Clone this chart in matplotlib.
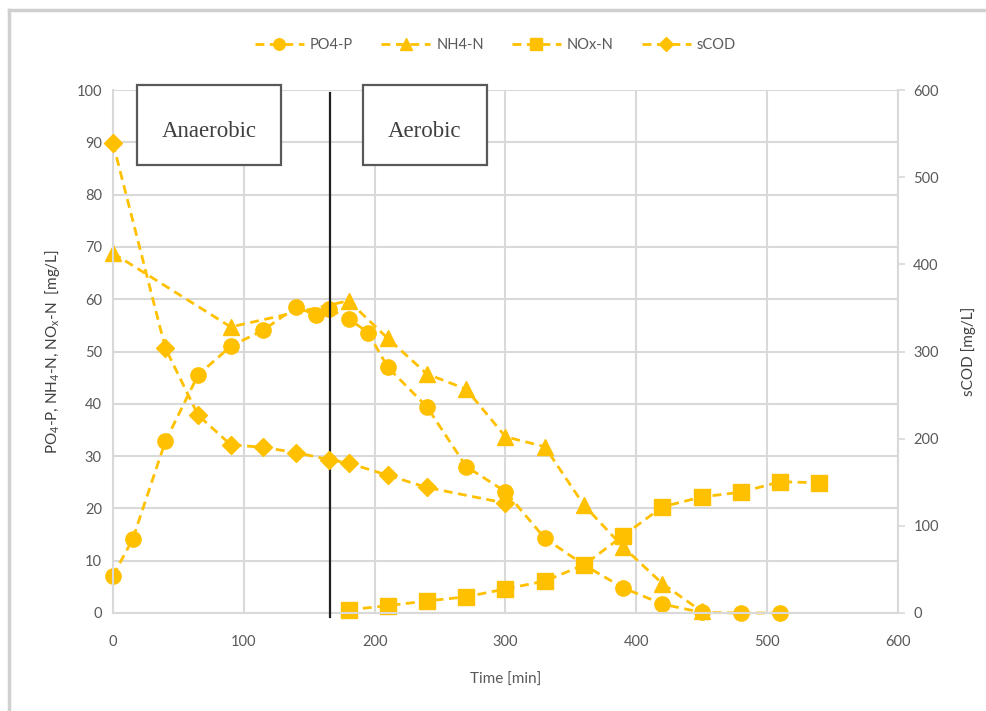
import matplotlib
matplotlib.use("Agg")
import matplotlib.pyplot as plt
from matplotlib.lines import Line2D
from matplotlib.patches import Rectangle

plt.rcParams['font.family'] = ['Lato', 'DejaVu Sans']
plt.rcParams['mathtext.fontset'] = 'custom'
plt.rcParams['mathtext.rm'] = 'Lato'
plt.rcParams['mathtext.it'] = 'Lato'

# ---- data ----
po4_t = [0, 15, 40, 65, 90, 115, 140, 155, 165, 180, 195, 210, 240, 270, 300, 330, 360, 390, 420, 450, 480, 510]
po4_v = [7.1, 14.1, 32.8, 45.5, 51.0, 54.1, 58.5, 57.0, 58.1, 56.3, 53.6, 47.0, 39.4, 28.0, 23.2, 14.3, 9.2, 4.8, 1.7, 0.1, 0.0, 0.0]

nh4_t = [0, 90, 180, 210, 240, 270, 300, 330, 360, 390, 420, 450]
nh4_v = [68.8, 54.7, 59.7, 52.5, 45.7, 42.8, 33.7, 31.8, 20.6, 12.6, 5.6, 0.3]

nox_t = [180, 210, 240, 270, 300, 330, 360, 390, 420, 450, 480, 510, 540]
nox_v = [0.6, 1.4, 2.3, 3.1, 4.6, 6.1, 9.2, 14.8, 20.3, 22.2, 23.1, 25.1, 24.9]

scod_t = [0, 40, 65, 90, 115, 140, 165, 180, 210, 240, 300]
scod_v = [539, 304, 227, 193, 190, 184, 176, 172, 158, 144, 126]

phase_boundary = 166
x_ticks = [0, 100, 200, 300, 400, 500, 600]
left_ticks = list(range(0, 101, 10))
right_ticks = list(range(0, 601, 100))

COLOR = '#FFC000'
GRID = '#D9D9D9'
TXT = '#595959'

fig = plt.figure(figsize=(9.87, 7.11), dpi=100)
ax = fig.add_axes([113/987, 1-613/711, 785/987, 523/711])
ax2 = ax.twinx()

common = dict(color=COLOR, lw=2.0, ls=(0, (3.2, 2.0)), markersize=11, clip_on=False)
l1, = ax.plot(po4_t, po4_v, marker='o', label='PO4-P', **common)
l2, = ax.plot(nh4_t, nh4_v, marker='^', label='NH4-N', **common)
l3, = ax.plot(nox_t, nox_v, marker='s', label='NOx-N', **common)
l4, = ax2.plot(scod_t, scod_v, marker='D', label='sCOD', color=COLOR, lw=2.0,
               ls=(0, (3.2, 2.0)), markersize=9, clip_on=False)

ax.set_xlim(0, 600)
ax.set_ylim(0, 100)
ax2.set_ylim(0, 600)
ax.set_xticks(x_ticks)
ax.set_yticks(left_ticks)
ax2.set_yticks(right_ticks)

ax.grid(True, color=GRID, lw=1.5)
ax.set_axisbelow(True)
for a in (ax, ax2):
    for s in a.spines.values():
        s.set_visible(False)
ax.spines['left'].set_visible(True)
ax.spines['bottom'].set_visible(True)
ax.spines['left'].set_color(GRID)
ax.spines['bottom'].set_color(GRID)
ax.spines['left'].set_linewidth(1.5)
ax.spines['bottom'].set_linewidth(1.5)
ax2.spines['right'].set_visible(True)
ax2.spines['right'].set_color(GRID)
ax2.spines['right'].set_linewidth(1.5)

ax.tick_params(axis='y', length=0, labelsize=10.5, colors=TXT, pad=8)
ax.tick_params(axis='x', length=0, labelsize=10.5, colors=TXT, pad=16)
ax2.tick_params(axis='y', length=5, width=1.2, color=GRID, labelsize=10.5, labelcolor=TXT, pad=6)

ax.set_xlabel('Time [min]', fontsize=11, color=TXT, labelpad=17)
ax.set_ylabel('PO$_4$-P, NH$_4$-N, NO$_x$-N  [mg/L]', fontsize=11, color='#404040', labelpad=10)
ax2.set_ylabel('sCOD [mg/L]', fontsize=11, color='#404040', labelpad=16)

# phase boundary line
ax.plot([phase_boundary, phase_boundary], [99.5, -0.8], color='#202020', lw=1.6, clip_on=False, zorder=5)

# phase boxes
for x0, x1, label in [(0.0306, 0.214, 'Anaerobic'), (0.3185, 0.4764, 'Aerobic')]:
    r = Rectangle((x0, 0.857), x1 - x0, 0.153, transform=ax.transAxes, fill=True,
                  facecolor='white', edgecolor='#595959', lw=1.6, clip_on=False, zorder=6)
    ax.add_patch(r)
    ax.text((x0 + x1) / 2, 0.857 + 0.153 / 2 - 0.012, label, transform=ax.transAxes,
            ha='center', va='center', fontsize=16.5, family='Liberation Serif',
            color='#404040', zorder=7)

# legend
handles = [l1, l2, l3, l4]
leg = fig.legend(handles, [h.get_label() for h in handles], loc='center',
                 bbox_to_anchor=(0.502, 0.937), ncol=4, frameon=False,
                 fontsize=10.5, handlelength=3.4, columnspacing=1.9, handletextpad=0.4,
                 markerscale=0.75)
for t in leg.get_texts():
    t.set_color(TXT)

# outer border (top & left edge)
fig.add_artist(Line2D([9/987, 9/987], [0, 1-10/711], transform=fig.transFigure, color='#D0D0D0', lw=2.5))
fig.add_artist(Line2D([9/987, 1], [1-10/711, 1-10/711], transform=fig.transFigure, color='#D0D0D0', lw=2.5))

fig.savefig('out.png', dpi=100)
